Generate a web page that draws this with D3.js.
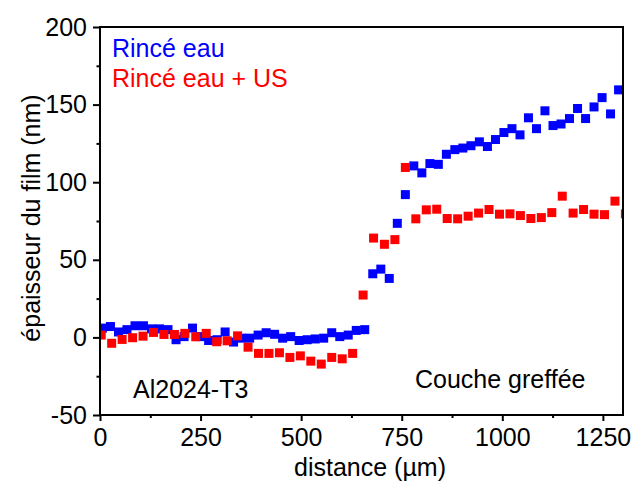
<!DOCTYPE html>
<head>
  <meta charset="utf-8">
  <script src="https://d3js.org/d3.v7.min.js"></script>
  <style>
    body { margin: 0; background: #fff; }
    svg { width: 633px; height: 483px; display: block; }
    text { font-family: "Liberation Sans", Arial, sans-serif; font-size: 25px; }
  </style>
</head>

<body>
  <svg></svg>
  <script>
    // Rincé eau (blue)
    var blueX = [6, 26, 46, 67, 87, 108, 128, 148, 169, 189, 209, 230, 250, 270, 291, 311,
      332, 352, 372, 393, 413, 434, 454, 474, 495, 515, 535, 556, 576, 596, 617, 637, 658,
      678, 698, 719, 739, 759, 780, 800, 820, 841, 861, 882, 902, 922, 943, 963, 983,
      1004, 1024, 1044, 1065, 1085, 1106, 1126, 1146, 1167, 1187, 1207, 1228, 1248, 1269, 1289, 1309];
    var blueY = [6, 7, 3.5, 5, 7.5, 7.5, 5.5, 5.5, 5, -1.5, 0.5, 6, 0.5, -2, -1.5, 3.5,
      -3, -0.5, -0.5, 1.5, 3, 2, -0.5, 0.5, -2, -1.5, -1, -0.5, 3, 0.5, 1.5, 4.5, 5,
      41, 44, 38, 73.5, 92, 110.5, 106, 112, 111.5, 118, 121, 122, 123.5, 126, 123, 127.5,
      132, 134.5, 130.5, 141.5, 134.5, 146, 136.5, 137.5, 141, 147.5, 141, 148.5, 154.5, 144, 159.5, 154];

    // Rincé eau + US (red)
    var redX = [3, 29, 55, 81, 107, 133, 159, 185, 211, 238, 264, 290, 316, 342, 368, 394,
      420, 446, 472, 498, 524, 550, 576, 602, 628, 654, 680, 707, 733, 759, 785, 811, 837,
      863, 889, 915, 941, 967, 993, 1019, 1045, 1071, 1097, 1123, 1149, 1176, 1202, 1228,
      1254, 1280, 1306];
    var redY = [1.5, -3.8, -1.3, -0.2, 0.8, 3.2, 1.9, 1.9, 2.6, 0.4, 2.6, -2.8, -2.2, 1.0,
      -6.3, -10.3, -10.3, -9.9, -12.9, -11.9, -15.3, -17.2, -12.9, -13.8, -10.3, 27.3, 64,
      60, 63, 109.5, 76.4, 82.2, 82.6, 76.6, 76.4, 78.1, 80.1, 82.4, 79.4, 79.6, 78.5, 76.6,
      77.2, 80.4, 91.0, 80.1, 82.4, 79.4, 79.1, 87.8, 79.6];

    var xTicks = [0, 250, 500, 750, 1000, 1250];
    var xMinor = [125, 375, 625, 875, 1125];
    var yTicks = [-50, 0, 50, 100, 150, 200];
    var yMinor = [-25, 25, 75, 125, 175];

    var plotL = 100, plotR = 623, plotT = 27, plotB = 415;
    var svg = d3.select('svg');

    var x = d3.scaleLinear().domain([0, 1300]).range([plotL, plotR]);
    var y = d3.scaleLinear().domain([-50, 200]).range([plotB, plotT]);

    svg.append('clipPath').attr('id', 'plot')
      .append('rect')
      .attr('x', plotL).attr('y', plotT)
      .attr('width', plotR - plotL).attr('height', plotB - plotT);

    var marks = svg.append('g').attr('clip-path', 'url(#plot)');
    var size = 9;

    function drawSeries(xs, ys, color) {
      marks.append('g').selectAll('rect')
        .data(xs.map(function(d, i) { return [d, ys[i]]; }))
        .enter().append('rect')
        .attr('x', function(d) { return x(d[0]) - size / 2; })
        .attr('y', function(d) { return y(d[1]) - size / 2; })
        .attr('width', size).attr('height', size)
        .attr('fill', color);
    }
    drawSeries(blueX, blueY, '#0000ff');
    drawSeries(redX, redY, '#ff0000');

    // plain hyphen for negatives, like the original
    var fmt = function(d) { return String(d); };

    // minor ticks
    svg.append('g')
      .attr('transform', 'translate(0,' + plotB + ')')
      .call(d3.axisBottom(x).tickValues(xMinor).tickSize(3).tickFormat(''))
      .call(function(g) { g.select('.domain').remove(); });
    svg.append('g')
      .attr('transform', 'translate(' + plotL + ',0)')
      .call(d3.axisLeft(y).tickValues(yMinor).tickSize(3.5).tickFormat(''))
      .call(function(g) { g.select('.domain').remove(); });

    // major axes
    var xAxis = svg.append('g')
      .attr('transform', 'translate(0,' + plotB + ')')
      .call(d3.axisBottom(x).tickValues(xTicks).tickSize(6).tickSizeOuter(0)
        .tickPadding(7).tickFormat(fmt));
    var yAxis = svg.append('g')
      .attr('transform', 'translate(' + plotL + ',0)')
      .call(d3.axisLeft(y).tickValues(yTicks).tickSize(7).tickSizeOuter(0)
        .tickPadding(6).tickFormat(fmt));

    [xAxis, yAxis].forEach(function(g) {
      g.selectAll('.domain').remove();
      g.selectAll('text').attr('font-size', 25).attr('fill', '#000')
        .attr('font-family', '"Liberation Sans", Arial, sans-serif');
    });
    svg.selectAll('.tick line').attr('stroke', '#000').attr('stroke-width', 2);

    // frame
    svg.append('rect')
      .attr('x', plotL).attr('y', plotT)
      .attr('width', plotR - plotL).attr('height', plotB - plotT)
      .attr('fill', 'none').attr('stroke', '#000').attr('stroke-width', 2);

    // titles
    svg.append('text')
      .attr('x', 370).attr('y', 476)
      .attr('text-anchor', 'middle')
      .text('distance (µm)');
    svg.append('text')
      .attr('transform', 'translate(40,218)rotate(-90)')
      .attr('text-anchor', 'middle')
      .text('épaisseur du film (nm)');

    // legend
    svg.append('text').attr('x', 112).attr('y', 57).attr('fill', '#0000ff').text('Rincé eau');
    svg.append('text').attr('x', 112).attr('y', 87).attr('fill', '#ff0000').text('Rincé eau + US');

    // annotations
    svg.append('text').attr('x', 133).attr('y', 398).text('Al2024-T3');
    svg.append('text').attr('x', 415).attr('y', 388).text('Couche greffée');
  </script>
</body>
